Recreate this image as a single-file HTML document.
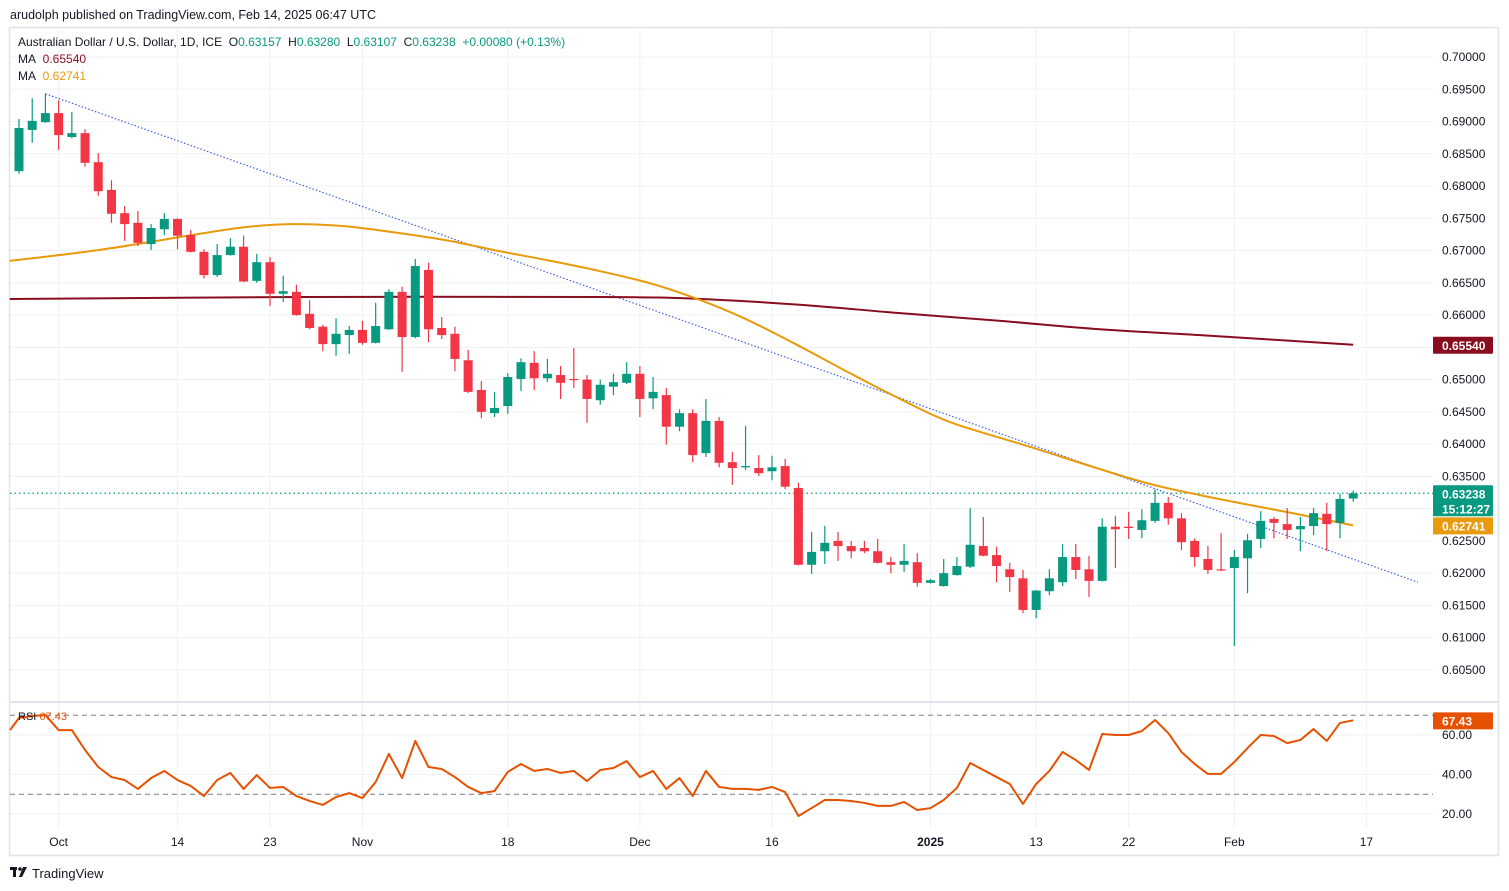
<!DOCTYPE html>
<html><head><meta charset="utf-8">
<style>
html,body{margin:0;padding:0;background:#fff;}
body{width:1509px;height:891px;overflow:hidden;font-family:"Liberation Sans",sans-serif;position:relative;}
svg{position:absolute;left:0;top:0;}
text{font-family:"Liberation Sans",sans-serif;}
</style></head>
<body>
<svg id="chart" width="1509" height="891" viewBox="0 0 1509 891" xmlns="http://www.w3.org/2000/svg">
  <text x="10" y="19" font-size="12.5" fill="#131722">arudolph published on TradingView.com, Feb 14, 2025 06:47 UTC</text>
  <rect x="9.5" y="27.5" width="1489" height="828" fill="none" stroke="#e0e3eb" stroke-width="1.5"/>
  <g id="grid"></g>
  <g id="trend"></g>
  <g id="mas"></g>
  <g id="candles"></g>
  <g id="rsi"></g>
  <g id="axes"></g>
  <g font-size="12">
    <text x="18" y="46" fill="#131722">Australian Dollar / U.S. Dollar, 1D, ICE&#160;&#160;O<tspan fill="#089981">0.63157</tspan>&#160;&#160;H<tspan fill="#089981">0.63280</tspan>&#160;&#160;L<tspan fill="#089981">0.63107</tspan>&#160;&#160;C<tspan fill="#089981">0.63238</tspan>&#160;&#160;<tspan fill="#089981">+0.00080 (+0.13%)</tspan></text>
    <text x="18" y="63" fill="#131722">MA&#160;&#160;<tspan fill="#880e1f">0.65540</tspan></text>
    <text x="18" y="80" fill="#131722">MA&#160;&#160;<tspan fill="#e89a0c">0.62741</tspan></text>
    <text x="18" y="720" fill="#131722" font-size="11">RSI&#160;<tspan fill="#e65100">67.43</tspan></text>
  </g>
  <g>
    <rect x="10" y="867" width="7" height="3" fill="#131722"/><rect x="13" y="867" width="3" height="10" fill="#131722"/>
    <circle cx="20" cy="869" r="1.8" fill="#131722"/><polygon points="23,867 27,867 22,877 19,877" fill="#131722"/>
    <text x="32" y="878" font-size="13" fill="#131722">TradingView</text>
  </g>
</svg>
<script>
const opens=[0.6823,0.6887,0.6899,0.6913,0.6876,0.6882,0.6837,0.6794,0.6758,0.6743,0.6710,0.6733,0.6749,0.6724,0.6698,0.6662,0.6693,0.6706,0.6653,0.6682,0.6633,0.6636,0.6602,0.6582,0.6555,0.6569,0.6577,0.6557,0.6578,0.6636,0.6566,0.6670,0.6580,0.6571,0.6530,0.6484,0.6448,0.6459,0.6501,0.6526,0.6502,0.6507,0.6501,0.6500,0.6468,0.6489,0.6495,0.6509,0.6471,0.6476,0.6427,0.6448,0.6386,0.6436,0.6372,0.6364,0.6363,0.6358,0.6366,0.6332,0.6213,0.6234,0.6250,0.6242,0.6239,0.6234,0.6217,0.6213,0.6217,0.6185,0.6180,0.6197,0.6210,0.6242,0.6228,0.6206,0.6192,0.6143,0.6172,0.6186,0.6225,0.6206,0.6188,0.6272,0.6272,0.6267,0.6281,0.6309,0.6285,0.6250,0.6222,0.6206,0.6208,0.6223,0.6253,0.6284,0.6276,0.6268,0.6273,0.6292,0.6278,0.63157];
const highs=[0.6904,0.6936,0.6943,0.6933,0.6915,0.6888,0.6851,0.6809,0.6769,0.6761,0.6741,0.6758,0.6750,0.6732,0.6702,0.6710,0.6719,0.6723,0.6695,0.6690,0.6661,0.6647,0.6623,0.6585,0.6595,0.6583,0.6591,0.6619,0.6640,0.6644,0.6687,0.6681,0.6597,0.6582,0.6546,0.6498,0.6481,0.6510,0.6533,0.6544,0.6532,0.6521,0.6549,0.6507,0.6500,0.6509,0.6527,0.6521,0.6504,0.6487,0.6454,0.6454,0.6470,0.6442,0.6388,0.6428,0.6383,0.6382,0.6377,0.6340,0.6264,0.6273,0.6264,0.6250,0.6250,0.6253,0.6225,0.6245,0.6231,0.6191,0.6222,0.6225,0.6301,0.6287,0.6241,0.6216,0.6205,0.6174,0.6206,0.6245,0.6245,0.6227,0.6285,0.6289,0.6295,0.6299,0.6330,0.6318,0.6293,0.6254,0.6242,0.6262,0.6236,0.6261,0.6296,0.6287,0.6301,0.6287,0.6301,0.6309,0.6323,0.63280];
const lows=[0.6819,0.6867,0.6898,0.6856,0.6874,0.6830,0.6785,0.6743,0.6715,0.6707,0.6701,0.6724,0.6702,0.6697,0.6657,0.6659,0.6692,0.6651,0.6650,0.6614,0.6620,0.6599,0.6578,0.6544,0.6537,0.6540,0.6554,0.6556,0.6577,0.6512,0.6564,0.6558,0.6563,0.6513,0.6479,0.6440,0.6442,0.6447,0.6482,0.6484,0.6496,0.6470,0.6487,0.6433,0.6461,0.6476,0.6493,0.6442,0.6454,0.6399,0.6420,0.6372,0.6380,0.6364,0.6337,0.6360,0.6351,0.6344,0.6330,0.6212,0.6199,0.6214,0.6219,0.6223,0.6231,0.6215,0.6200,0.6202,0.6179,0.6184,0.6179,0.6196,0.6208,0.6226,0.6186,0.6171,0.6138,0.6130,0.6166,0.6180,0.6191,0.6163,0.6187,0.6208,0.6253,0.6254,0.6278,0.6275,0.6236,0.6210,0.6199,0.6203,0.6087,0.6169,0.6239,0.6254,0.6253,0.6234,0.6259,0.6234,0.6254,0.63107];
const closes=[0.6890,0.6901,0.6913,0.6879,0.6882,0.6836,0.6792,0.6757,0.6741,0.6712,0.6735,0.6749,0.6723,0.6698,0.6662,0.6693,0.6706,0.6652,0.6682,0.6633,0.6637,0.6600,0.6580,0.6555,0.6571,0.6577,0.6557,0.6583,0.6636,0.6566,0.6676,0.6578,0.6569,0.6532,0.6481,0.6450,0.6456,0.6504,0.6527,0.6502,0.6509,0.6495,0.6500,0.6470,0.6492,0.6496,0.6509,0.6470,0.6481,0.6427,0.6448,0.6383,0.6436,0.6371,0.6363,0.6366,0.6355,0.6364,0.6334,0.6213,0.6233,0.6247,0.6242,0.6234,0.6234,0.6216,0.6213,0.6219,0.6185,0.6189,0.6200,0.6211,0.6244,0.6227,0.6211,0.6194,0.6143,0.6173,0.6192,0.6225,0.6205,0.6188,0.6272,0.6268,0.6270,0.6282,0.6309,0.6285,0.6248,0.6225,0.6205,0.6205,0.6225,0.6251,0.6281,0.6278,0.6267,0.6273,0.6293,0.6276,0.6315,0.63238];
const rsiValues=[68.6,69.6,70.1,62.5,62.5,52.4,43.8,38.7,37.2,32.7,38.2,41.8,37.2,34.2,29.1,37.2,40.8,32.7,39.7,33.2,33.7,29.1,26.6,24.6,28.6,30.6,28.1,36.2,50.4,38.2,57.0,43.8,42.8,38.7,33.7,30.6,31.6,41.3,45.3,41.8,42.8,40.8,41.8,36.7,42.3,43.3,46.8,38.7,41.8,32.7,38.2,29.1,41.8,33.7,32.7,32.7,32.2,33.7,31.1,19.0,23.0,27.1,27.1,26.6,25.6,24.1,24.1,26.1,22.0,23.0,27.1,33.2,45.8,42.3,38.7,35.2,25.1,35.2,41.8,51.4,47.3,42.3,60.5,60.0,60.0,62.0,67.6,61.0,51.4,45.3,40.3,40.3,46.3,53.4,60.0,59.5,55.9,57.5,63.0,57.0,66.1,67.43];
const maFastIdx=[-0.7,6.1,13.7,17,20.5,24.5,28.8,32.6,36.4,40,44,48,51.6,55,58.6,62.9,66.7,70.5,76.5,84.6,89.4,96.4,101];
const maFastVal=[0.6684,0.6701,0.6726,0.6736,0.6741,0.6738,0.6727,0.6715,0.6699,0.6685,0.6668,0.6648,0.6623,0.6594,0.6557,0.6510,0.6470,0.6434,0.6396,0.6344,0.6321,0.6293,0.62741];
const maSlowIdx=[-0.7,21.3,44,51.6,59.1,66.7,74.3,81.8,89.4,101];
const maSlowVal=[0.6625,0.6628,0.6628,0.6625,0.6616,0.6603,0.6591,0.6578,0.6569,0.65540];
const trendIdx=[2,105.9];
const trendVal=[0.6943,0.6186];
const priceTicks=[0.700,0.695,0.690,0.685,0.680,0.675,0.670,0.665,0.660,0.655,0.650,0.645,0.640,0.635,0.630,0.625,0.620,0.615,0.610,0.605];
const rsiTicks=[60,40,20];
const rsiLevels=[70,30];
const dateIdx=[3,12,19,26,37,47,57,69,77,84,92,102];
const dateLabels=["Oct","14","23","Nov","18","Dec","16","2025","13","22","Feb","17"];
const lastPrice=0.63238, maSlowLast=0.65540, maFastLast=0.62741, rsiLast=67.43;

const NS="http://www.w3.org/2000/svg";
const X=i=>19+13.21*i;
const Y=p=>57+(0.700-p)*6452;
const RY=v=>814-(v-20)*1.975;
const PLOT_R=1433;
function mk(tag,attrs,parent,txt){const e=document.createElementNS(NS,tag);for(const k in attrs)e.setAttribute(k,attrs[k]);if(txt!==undefined)e.textContent=txt;parent.appendChild(e);return e;}
function smoothPath(pts){let d='M'+pts[0][0]+','+pts[0][1];for(let i=0;i<pts.length-1;i++){const p0=pts[i-1]||pts[i],p1=pts[i],p2=pts[i+1],p3=pts[i+2]||p2;d+=' C'+(p1[0]+(p2[0]-p0[0])/6)+','+(p1[1]+(p2[1]-p0[1])/6)+' '+(p2[0]-(p3[0]-p1[0])/6)+','+(p2[1]-(p3[1]-p1[1])/6)+' '+p2[0]+','+p2[1];}return d;}
const grid=document.getElementById('grid'),axes=document.getElementById('axes');
priceTicks.forEach(p=>{
  const g=mk('line',{x1:10,x2:PLOT_R,y1:Y(p),y2:Y(p),stroke:'#f0f1f4','stroke-width':1},grid);
  
  
  const t=mk('text',{x:1442,y:Y(p)+4,'font-size':12,fill:'#131722'},axes,p.toFixed(5));
  
  
});
rsiTicks.forEach(v=>{
  const g=mk('line',{x1:10,x2:PLOT_R,y1:RY(v),y2:RY(v),stroke:'#f0f1f4','stroke-width':1},grid);
  
  
  const t=mk('text',{x:1442,y:RY(v)+4,'font-size':12,fill:'#131722'},axes,v.toFixed(2));
  
  
});
dateIdx.forEach((d,k)=>{
  const g=mk('line',{x1:X(d),x2:X(d),y1:28,y2:828,stroke:'#f0f1f4','stroke-width':1},grid);
  
  
  const t=mk('text',{x:X(d),y:846,'font-size':12,fill:'#131722','text-anchor':'middle','font-weight':dateLabels[k]==='2025'?'bold':'normal'},axes,dateLabels[k]);
  
  
});
const sep=mk('line',{x1:10,x2:1498,y1:702,y2:702,stroke:'#e0e3eb','stroke-width':2},grid);


const tr=mk('line',{x1:X(trendIdx[0]),y1:Y(trendVal[0]),x2:X(trendIdx[1]),y2:Y(trendVal[1]),stroke:'#3d5fe0','stroke-width':1.2,'stroke-dasharray':'1.5 2'},document.getElementById('trend'));


const lp=mk('line',{x1:10,x2:PLOT_R,y1:Y(lastPrice),y2:Y(lastPrice),stroke:'#089981','stroke-width':1.2,'stroke-dasharray':'1.5 3'},document.getElementById('trend'));


const mas=document.getElementById('mas');
const ps=mk('path',{d:smoothPath(maSlowIdx.map((d,k)=>[X(d),Y(maSlowVal[k])])),fill:'none',stroke:'#880e1f','stroke-width':2},mas);


const pf=mk('path',{d:smoothPath(maFastIdx.map((d,k)=>[X(d),Y(maFastVal[k])])),fill:'none',stroke:'#e89a0c','stroke-width':2},mas);


const cg=document.getElementById('candles');
opens.forEach((o,i)=>{
  const c=closes[i],up=c>=o,col=up?'#089981':'#f23645';
  const g=mk('g',{},cg);
  
  
  mk('line',{x1:X(i),x2:X(i),y1:Y(highs[i]),y2:Y(lows[i]),stroke:col,'stroke-width':1.2},g);
  const top=Y(Math.max(o,c)),bot=Y(Math.min(o,c));
  mk('rect',{x:X(i)-4.5,y:top,width:9,height:Math.max(1.2,bot-top),fill:col},g);
});
const rg=document.getElementById('rsi');
rsiLevels.forEach(v=>{
  const l=mk('line',{x1:10,x2:PLOT_R,y1:RY(v),y2:RY(v),stroke:'#787b86','stroke-width':1,'stroke-dasharray':'5 4'},rg);
  
  
});
const rl=mk('polyline',{points:'10,'+RY(62.5)+' '+rsiValues.map((v,i)=>X(i)+','+RY(v)).join(' '),fill:'none',stroke:'#e65100','stroke-width':2,'stroke-linejoin':'round'},rg);


function badge(y,h,col,lines,name){
  const g=mk('g',{},axes);
  
  
  mk('rect',{x:1433,y:y,width:60,height:h,fill:col,rx:1},g);
  lines.forEach((t,k)=>mk('text',{x:1442,y:y+13+k*15,'font-size':12,fill:'#fff','font-weight':'bold'},g,t));
}
badge(Y(maSlowLast)-8,17,'#880e1f',[maSlowLast.toFixed(5)],'ma-slow-price-badge');
badge(Y(lastPrice)-8,31,'#089981',[lastPrice.toFixed(5),'15:12:27'],'last-price-badge');
badge(Y(maFastLast)-8,17,'#e89a0c',[maFastLast.toFixed(5)],'ma-fast-price-badge');
badge(RY(rsiLast)-8,17,'#e65100',[rsiLast.toFixed(2)],'rsi-value-badge');
</script>
</body></html>
